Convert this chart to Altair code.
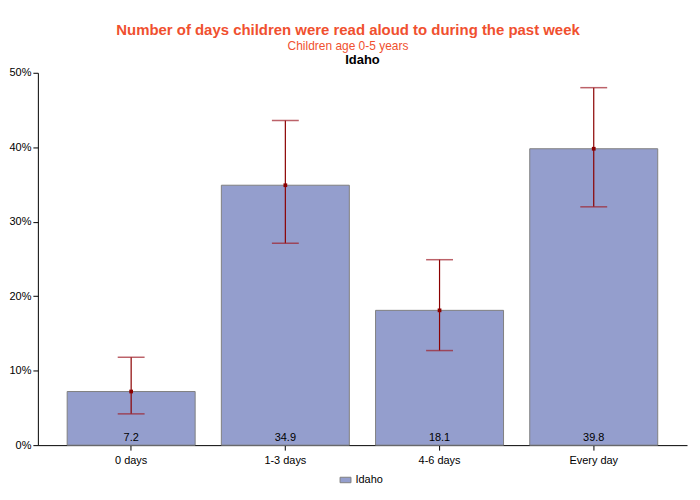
import altair as alt
import pandas as pd

categories = ["0 days", "1-3 days", "4-6 days", "Every day"]
values = [7.2, 34.9, 18.1, 39.8]
lower = [4.2, 27.1, 12.7, 32.0]
upper = [11.8, 43.6, 24.9, 48.0]
series = ["Idaho"] * 4

df = pd.DataFrame({"cat": categories, "value": values, "lo": lower, "hi": upper, "series": series})

FONT = "Liberation Sans"
x = alt.X("cat:N", sort=categories, title=None,
          scale=alt.Scale(paddingInner=0.17, paddingOuter=0.19),
          axis=alt.Axis(labelAngle=0, labelFontSize=11, labelColor="#000000", domainColor="#000000",
                        tickColor="#000000", labelFont=FONT, labelPadding=4))
y_scale = alt.Scale(domain=[0, 50])

base = alt.Chart(df)
bars = base.mark_bar(stroke="#808080", strokeWidth=1).encode(
    x=x,
    y=alt.Y("value:Q", scale=y_scale, title=None,
            axis=alt.Axis(values=[0, 10, 20, 30, 40, 50], labelExpr="datum.value + '%'", grid=False,
                          labelFontSize=11, labelColor="#000000", domainColor="#000000",
                          tickColor="#000000", labelFont=FONT)),
    color=alt.Color("series:N", scale=alt.Scale(range=["#949ECD"]), title=None,
                    legend=alt.Legend(orient="none", legendX=303, legendY=403,
                                      labelFontSize=11, labelFont=FONT, labelColor="#000000",
                                      symbolType="M-1,-0.5L1,-0.5L1,0.5L-1,0.5Z", symbolSize=120,
                                      symbolStrokeColor="#808080", symbolStrokeWidth=1, symbolOpacity=1)),
)
rules = base.mark_rule(color="#8B0000", strokeWidth=1.2).encode(
    x=alt.X("cat:N", sort=categories), y=alt.Y("lo:Q", scale=y_scale), y2="hi:Q")
cap_lo = base.mark_tick(color="#A0202A", thickness=1.5, size=27, orient="horizontal").encode(
    x=alt.X("cat:N", sort=categories), y=alt.Y("lo:Q", scale=y_scale))
cap_hi = base.mark_tick(color="#A0202A", thickness=1.5, size=27, orient="horizontal").encode(
    x=alt.X("cat:N", sort=categories), y=alt.Y("hi:Q", scale=y_scale))
pts = base.mark_point(shape="square", filled=True, size=14, color="#8B0000", opacity=1).encode(
    x=alt.X("cat:N", sort=categories), y=alt.Y("value:Q", scale=y_scale))
labels = base.mark_text(baseline="bottom", dy=-2, fontSize=11, font=FONT, color="#000000").encode(
    x=alt.X("cat:N", sort=categories), y=alt.datum(0), text=alt.Text("value:Q", format=".1f"))

layer = alt.layer(bars, rules, cap_lo, cap_hi, pts, labels).properties(
    width=652, height=374,
    title=alt.TitleParams("Idaho", fontSize=13, font=FONT, fontWeight="bold", color="#000000", offset=0),
)

chart = alt.vconcat(layer).properties(
    title=alt.TitleParams("Number of days children were read aloud to during the past week",
                          subtitle=["Children age 0-5 years"], anchor="middle",
                          fontSize=15, font=FONT, fontWeight="bold", color="#F0502F",
                          subtitleFontSize=12, subtitleFont=FONT, subtitleColor="#F0502F",
                          subtitlePadding=3, offset=2),
    padding={"left": 0, "top": 14, "right": 5, "bottom": 5},
).configure_view(stroke=None).configure_concat(spacing=0)

chart.save("out.html", embed_options={"renderer": "svg", "actions": False})
